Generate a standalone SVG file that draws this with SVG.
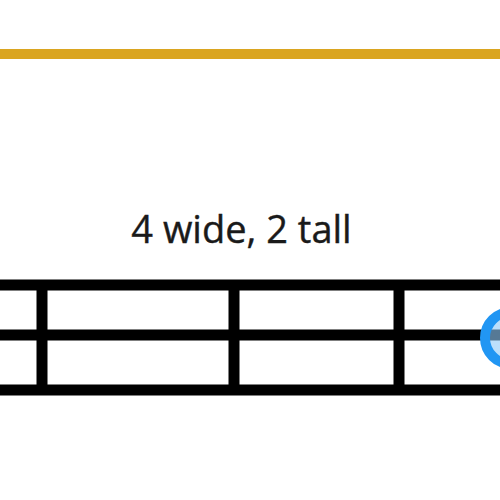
<svg xmlns="http://www.w3.org/2000/svg" width="500" height="500" viewBox="0 0 500 500">
<style>
.grid{stroke:#000;stroke-width:11;fill:none}
.lbl{font-family:"Open Sans","Noto Sans",sans-serif;font-size:38px;fill:#1a1a1a;stroke:#1a1a1a;stroke-width:0.4}
</style>
<rect width="500" height="500" fill="#fff"/>
<g id="topline"><line x1="0" y1="54" x2="500" y2="54" stroke="#DAA520" stroke-width="10"/></g>
<g id="label"><text class="lbl" x="241.5" y="243" text-anchor="middle">4 wide, 2 tall</text></g>
<g id="grid">
<line class="grid" x1="0" y1="285" x2="500" y2="285"/>
<line class="grid" x1="0" y1="335" x2="500" y2="335"/>
<line class="grid" x1="0" y1="390" x2="500" y2="390"/>
<line class="grid" x1="42" y1="280" x2="42" y2="395"/>
<line class="grid" x1="234" y1="280" x2="234" y2="395"/>
<line class="grid" x1="399" y1="280" x2="399" y2="395"/>
</g>
<g id="marker"><circle cx="511" cy="338" r="26" fill="#90CAF9" fill-opacity="0.6" stroke="#2196F3" stroke-width="10"/></g>
</svg>
